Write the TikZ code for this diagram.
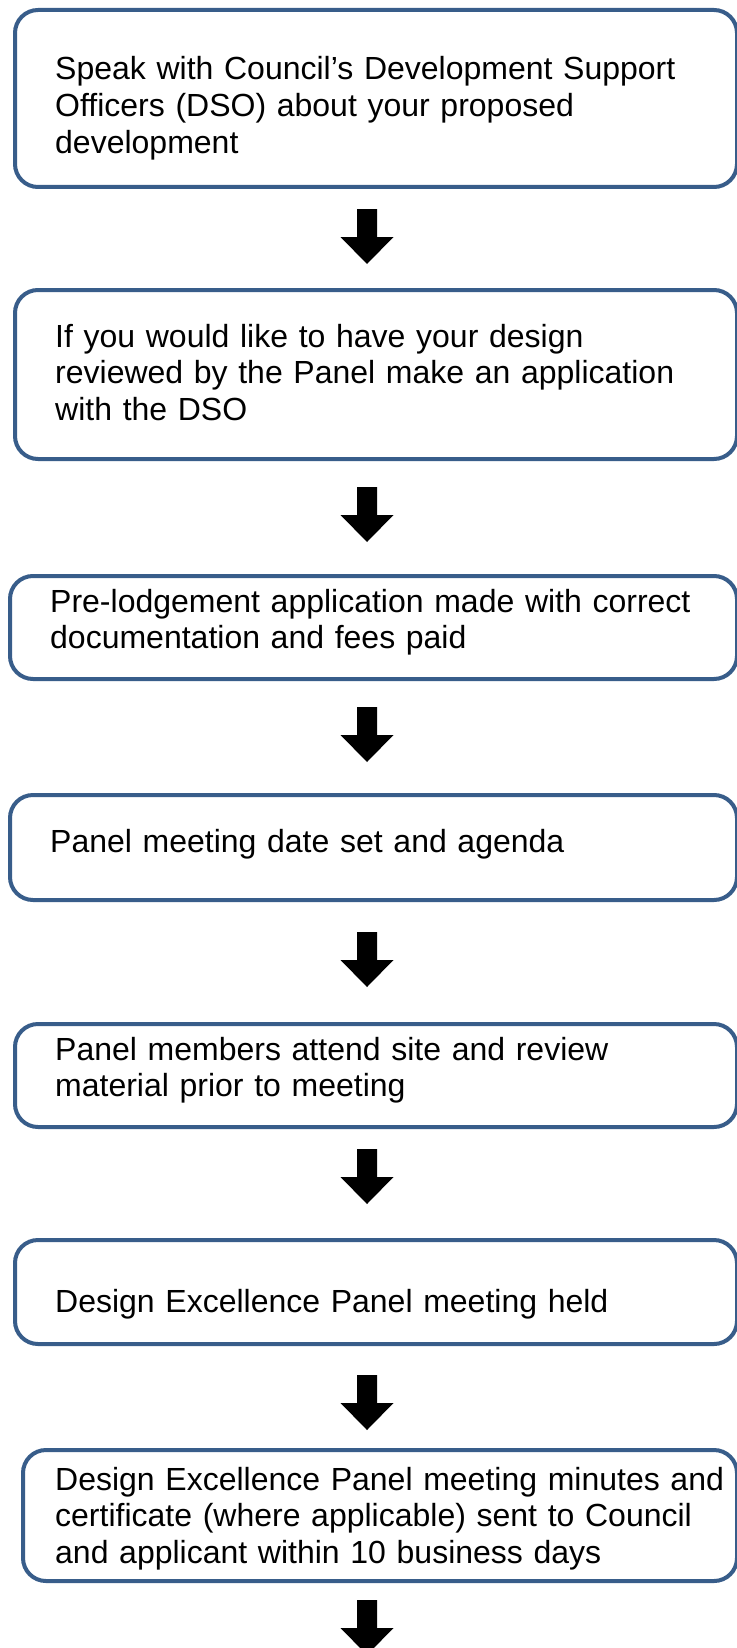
\documentclass[tikz,border=0pt]{standalone}
\usepackage{fontspec}
\setmainfont{Liberation Sans}
\definecolor{boxblue}{RGB}{56,93,138}
\begin{document}
\begin{tikzpicture}[x=1pt,y=-1pt,
  box/.style={draw=boxblue, line width=4pt, rounded corners=23pt, rectangle,
    inner sep=0pt, anchor=north west, fill=white},
  txt/.style={anchor=base west, inner sep=0pt, text width=700pt, align=left,
    font=\fontsize{32}{36.8}\selectfont},
  blockarrow/.pic={\fill[black] (-10,0) -- (10,0) -- (10,28) -- (26.5,28) -- (0,55)
    -- (-26.5,28) -- (-10,28) -- cycle;}]
\useasboundingbox (0,0) rectangle (736,1648);
\fill[white] (0,0) rectangle (736,1648);
% boxes
\node[box, minimum width=722pt, minimum height=177pt] (b1) at (13,8) {};
\node[box, minimum width=722pt, minimum height=169pt] (b2) at (13,288) {};
\node[box, minimum width=727pt, minimum height=103pt] (b3) at (8,574) {};
\node[box, minimum width=727pt, minimum height=105pt] (b4) at (8,793) {};
\node[box, minimum width=722pt, minimum height=103pt] (b5) at (13,1022) {};
\node[box, minimum width=722pt, minimum height=104pt] (b6) at (13,1238) {};
\node[box, minimum width=714pt, minimum height=131pt] (b7) at (21,1448) {};
% texts
\node[txt] (t1) at (55,80) {Speak with Council’s Development Support\\Officers (DSO) about your proposed\\development};
\node[txt] (t2) at (55,347) {If you would like to have your design\\reviewed by the Panel make an application\\with the DSO};
\node[txt] (t3) at (50,612) {Pre-lodgement application made with correct\\documentation and fees paid};
\node[txt] (t4) at (50,852) {Panel meeting date set and agenda};
\node[txt] (t5) at (55,1060) {Panel members attend site and review\\material prior to meeting};
\node[txt] (t6) at (55,1312) {Design Excellence Panel meeting held};
\node[txt] (t7) at (55,1490) {Design Excellence Panel meeting minutes and\\certificate (where applicable) sent to Council\\and applicant within 10 business days};
% arrows
\coordinate (a1) at (367,209);
\coordinate (a2) at (367,487);
\coordinate (a3) at (367,707);
\coordinate (a4) at (367,932);
\coordinate (a5) at (367,1149);
\coordinate (a6) at (367,1375);
\coordinate (a7) at (367,1600);
\foreach \a in {a1,a2,a3,a4,a5,a6,a7} \pic at (\a) {blockarrow};
\end{tikzpicture}
\end{document}
